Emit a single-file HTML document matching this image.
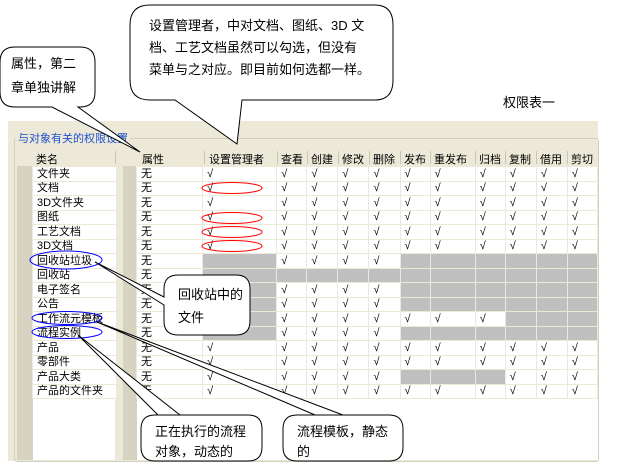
<!DOCTYPE html>
<html><head><meta charset="utf-8"><style>
body{margin:0;width:637px;height:476px;background:#fff;position:relative;overflow:hidden;font-family:"Liberation Sans","Noto Sans CJK SC",sans-serif;}
.abs{position:absolute}
#panel{left:8px;top:121px;width:590px;height:340px;background:#ece9d8}
table{border-collapse:collapse;table-layout:fixed;font-size:11px}
td{height:13.5px;padding:0 0 0 4px;border:1px solid #ece9d8;background:#fff;white-space:nowrap;line-height:12px;overflow:hidden}
td.g{background:#c0c0c0}
.hd{font-size:11px;top:151px;color:#000}
.sep{position:absolute;top:151px;width:1px;height:13px;background:#c8c5b2}
</style></head><body>
<div class="abs" id="panel"></div>
<div class="abs" style="left:14px;top:138px;width:583px;height:322px;border:1px solid #d0d0bf;border-radius:3px"></div>
<div class="abs" style="left:16px;top:130px;background:#ece9d8;color:#2050d0;font-size:11px;padding:0 2px">与对象有关的权限设置</div>
<div class="abs" style="left:17px;top:166px;width:16px;height:294px;background:#d6d3c0"></div>
<div class="abs" style="left:33px;top:398px;width:82px;height:62px;background:#fff"></div>
<div class="abs" style="left:123px;top:166px;width:14px;height:294px;background:#d6d3c0"></div>
<div class="abs" style="left:137px;top:398px;width:461px;height:62px;background:#fff"></div>
<div class="abs hd" style="left:36px">类名</div>
<div class="abs hd" style="left:142px">属性</div>
<div class="abs hd" style="left:209px">设置管理者</div>
<div class="abs hd" style="left:281px">查看</div>
<div class="abs hd" style="left:311px">创建</div>
<div class="abs hd" style="left:342px">修改</div>
<div class="abs hd" style="left:373px">删除</div>
<div class="abs hd" style="left:404px">发布</div>
<div class="abs hd" style="left:434px">重发布</div>
<div class="abs hd" style="left:479px">归档</div>
<div class="abs hd" style="left:509px">复制</div>
<div class="abs hd" style="left:540px">借用</div>
<div class="abs hd" style="left:571px">剪切</div>
<div class="sep" style="left:115px"></div><div class="sep" style="left:204px"></div><div class="sep" style="left:277px"></div><div class="sep" style="left:307px"></div><div class="sep" style="left:338px"></div><div class="sep" style="left:369px"></div><div class="sep" style="left:400px"></div><div class="sep" style="left:430px"></div><div class="sep" style="left:475px"></div><div class="sep" style="left:505px"></div><div class="sep" style="left:536px"></div><div class="sep" style="left:567px"></div>

<table class="abs" style="left:32px;top:166px;width:84px">
<col style="width:84px">
<tr><td>文件夹</td></tr><tr><td>文档</td></tr><tr><td>3D文件夹</td></tr><tr><td>图纸</td></tr><tr><td>工艺文档</td></tr><tr><td>3D文档</td></tr><tr><td>回收站垃圾</td></tr><tr><td>回收站</td></tr><tr><td>电子签名</td></tr><tr><td>公告</td></tr><tr><td>工作流元模板</td></tr><tr><td>流程实例</td></tr><tr><td>产品</td></tr><tr><td>零部件</td></tr><tr><td>产品大类</td></tr><tr><td>产品的文件夹</td></tr>
</table>

<table class="abs" style="left:136px;top:166px;width:462px">
<col style="width:66px"><col style="width:74px"><col style="width:30px"><col style="width:31px"><col style="width:31px"><col style="width:31px"><col style="width:30px"><col style="width:45px"><col style="width:30px"><col style="width:31px"><col style="width:31px"><col style="width:30px">
<tr><td>无</td><td>√</td><td>√</td><td>√</td><td>√</td><td>√</td><td>√</td><td>√</td><td>√</td><td>√</td><td>√</td><td>√</td></tr>
<tr><td>无</td><td>√</td><td>√</td><td>√</td><td>√</td><td>√</td><td>√</td><td>√</td><td>√</td><td>√</td><td>√</td><td>√</td></tr>
<tr><td>无</td><td>√</td><td>√</td><td>√</td><td>√</td><td>√</td><td>√</td><td>√</td><td>√</td><td>√</td><td>√</td><td>√</td></tr>
<tr><td>无</td><td>√</td><td>√</td><td>√</td><td>√</td><td>√</td><td>√</td><td>√</td><td>√</td><td>√</td><td>√</td><td>√</td></tr>
<tr><td>无</td><td>√</td><td>√</td><td>√</td><td>√</td><td>√</td><td>√</td><td>√</td><td>√</td><td>√</td><td>√</td><td>√</td></tr>
<tr><td>无</td><td>√</td><td>√</td><td>√</td><td>√</td><td>√</td><td>√</td><td>√</td><td>√</td><td>√</td><td>√</td><td>√</td></tr>
<tr><td>无</td><td class="g"></td><td>√</td><td>√</td><td>√</td><td>√</td><td class="g"></td><td class="g"></td><td class="g"></td><td class="g"></td><td class="g"></td><td class="g"></td></tr>
<tr><td>无</td><td class="g"></td><td class="g"></td><td class="g"></td><td class="g"></td><td class="g"></td><td class="g"></td><td class="g"></td><td class="g"></td><td class="g"></td><td class="g"></td><td class="g"></td></tr>
<tr><td>无</td><td class="g"></td><td>√</td><td>√</td><td>√</td><td>√</td><td class="g"></td><td class="g"></td><td class="g"></td><td class="g"></td><td class="g"></td><td class="g"></td></tr>
<tr><td>无</td><td class="g"></td><td>√</td><td>√</td><td>√</td><td>√</td><td class="g"></td><td class="g"></td><td class="g"></td><td class="g"></td><td class="g"></td><td class="g"></td></tr>
<tr><td>无</td><td class="g"></td><td>√</td><td>√</td><td>√</td><td>√</td><td>√</td><td>√</td><td>√</td><td class="g"></td><td class="g"></td><td class="g"></td></tr>
<tr><td>无</td><td class="g"></td><td>√</td><td>√</td><td>√</td><td>√</td><td class="g"></td><td class="g"></td><td class="g"></td><td class="g"></td><td class="g"></td><td class="g"></td></tr>
<tr><td>无</td><td>√</td><td>√</td><td>√</td><td>√</td><td>√</td><td>√</td><td>√</td><td>√</td><td>√</td><td>√</td><td>√</td></tr>
<tr><td>无</td><td>√</td><td>√</td><td>√</td><td>√</td><td>√</td><td>√</td><td>√</td><td>√</td><td>√</td><td>√</td><td>√</td></tr>
<tr><td>无</td><td>√</td><td>√</td><td>√</td><td>√</td><td>√</td><td class="g"></td><td class="g"></td><td class="g"></td><td>√</td><td>√</td><td>√</td></tr>
<tr><td>无</td><td>√</td><td>√</td><td>√</td><td>√</td><td>√</td><td>√</td><td>√</td><td>√</td><td>√</td><td>√</td><td>√</td></tr>
</table>

<svg class="abs" style="left:0;top:0" width="637" height="476">
<g fill="none" stroke-width="1">
<ellipse cx="232" cy="188" rx="30" ry="5.5" stroke="#f00"/>
<ellipse cx="232" cy="218" rx="30" ry="5.5" stroke="#f00"/>
<ellipse cx="232" cy="232" rx="30" ry="5.5" stroke="#f00"/>
<ellipse cx="232" cy="246" rx="30" ry="5.5" stroke="#f00"/>
<ellipse cx="66" cy="260" rx="36" ry="9" stroke="#00f"/>
<ellipse cx="67" cy="318" rx="35" ry="6.5" stroke="#00f"/>
<ellipse cx="67" cy="332" rx="35" ry="6.5" stroke="#00f"/>
</g>
<g fill="#fff" stroke="#000" stroke-width="1">
<path d="M150,5 H375 Q393,5 393,25 V80 Q393,100 375,100 H242 L237,144 L175,100 H150 Q130,100 130,80 V25 Q130,5 150,5 Z"/>
<path d="M15,47 H80 Q95,47 95,62 V92 Q95,107 80,107 H78 L140,152 L52,107 H15 Q0,107 0,92 V62 Q0,47 15,47 Z"/>
<path d="M178,275 H236 Q250,275 250,289 V321 Q250,335 236,335 H178 Q164,335 164,321 V305 L95,262 L164,297 V289 Q164,275 178,275 Z"/>
<path d="M155,415 H248 Q262,415 262,429 V447 Q262,461 248,461 H155 Q141,461 141,447 V429 Q141,415 155,415 H158 L78,335 L180,415 Z"/>
<path d="M297,415 H389 Q403,415 403,429 V447 Q403,461 389,461 H297 Q283,461 283,447 V429 Q283,415 297,415 H315 L97,322 L343,415 Z"/>
</g>
<g font-size="13" fill="#000" font-family="Liberation Sans, Noto Sans CJK SC, sans-serif">
<text x="149" y="30">设置管理者，中对文档、图纸、3D 文</text>
<text x="149" y="52">档、工艺文档虽然可以勾选，但没有</text>
<text x="149" y="74">菜单与之对应。即目前如何选都一样。</text>
<text x="11" y="68">属性，第二</text>
<text x="11" y="92">章单独讲解</text>
<text x="178" y="299">回收站中的</text>
<text x="178" y="322">文件</text>
<text x="155" y="436">正在执行的流程</text>
<text x="155" y="456">对象，动态的</text>
<text x="297" y="436">流程模板，静态</text>
<text x="297" y="456">的</text>
<text x="503" y="107">权限表一</text>
</g>
</svg>
</body></html>
